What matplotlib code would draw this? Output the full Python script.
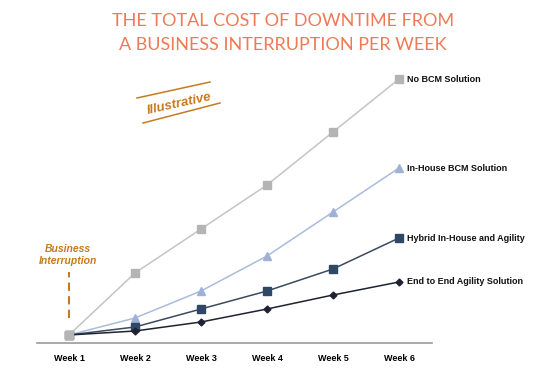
import matplotlib.pyplot as plt
from matplotlib.lines import Line2D

# -----------------------------
# Data
# -----------------------------
weeks = ["Week 1", "Week 2", "Week 3", "Week 4", "Week 5", "Week 6"]
no_bcm = [0, 62, 106, 150, 203, 256]
in_house = [0, 17, 44, 79, 123, 167]
hybrid = [0, 8, 26, 44, 66, 97]
end_to_end = [0, 4, 13, 26, 40, 53]

series_names = ["No BCM Solution", "In-House BCM Solution",
                "Hybrid In-House and Agility", "End to End Agility Solution"]

W, H = 550, 386
fig = plt.figure(figsize=(W / 100, H / 100), dpi=100)
ax = fig.add_axes([37 / W, 1 - 343 / H, (432 - 37) / W, (343 - 70) / H])

x = list(range(len(weeks)))
styles = [
    (no_bcm, "#c4c4c4", "#b4b4b4", "s", 5.5),
    (in_house, "#a9bcdc", "#9fb2d6", "^", 6),
    (hybrid, "#3b4a5e", "#2f4866", "s", 5.5),
    (end_to_end, "#1f2230", "#1f2230", "D", 3.5),
]
for (vals, lc, mc, mk, ms), name in zip(styles, series_names):
    ax.plot(x, vals, color=lc, lw=1.1, marker=mk, ms=ms,
            markerfacecolor=mc, markeredgecolor=mc, zorder=3)
    ax.text(x[-1] + 0.12, vals[-1], name, fontsize=6.5, fontweight="bold",
            family="Liberation Sans", color="#111111", va="center", ha="left")

# redraw week-1 grey marker on top
ax.plot(x[0], no_bcm[0], marker="s", ms=5.5, color="#b4b4b4", zorder=4)

ax.set_xlim(-0.485, 5.5)
ax.set_ylim(-8, 265)
ax.set_xticks(x)
ax.set_xticklabels(weeks, fontsize=6.5, fontweight="bold", family="Liberation Sans")
ax.tick_params(axis="x", length=0, pad=8)
ax.set_yticks([])
for s in ["top", "right", "left"]:
    ax.spines[s].set_visible(False)
ax.spines["bottom"].set_color("#9a9a9a")
ax.spines["bottom"].set_linewidth(1.2)

# -----------------------------
# Title
# -----------------------------
title_color = "#f07a55"
fig.text(283 / W, 1 - 21 / H, "THE TOTAL COST OF DOWNTIME FROM",
         ha="center", va="center", fontsize=13, color=title_color,
         family="Lato", fontweight="normal")
fig.text(283 / W, 1 - 45 / H, "A BUSINESS INTERRUPTION PER WEEK",
         ha="center", va="center", fontsize=13, color=title_color,
         family="Lato", fontweight="normal")

# -----------------------------
# Annotations
# -----------------------------
orange = "#c77a1f"
fig.text(179 / W, 1 - 104 / H, "Illustrative", ha="center", va="center",
         rotation=12.5, fontsize=9.5, fontweight="bold", style="italic",
         family="Liberation Sans", color=orange)
fig.add_artist(Line2D([137 / W, 210 / W], [1 - 98 / H, 1 - 82 / H],
                      color=orange, lw=1.1))
fig.add_artist(Line2D([143 / W, 220 / W], [1 - 123 / H, 1 - 103 / H],
                      color=orange, lw=1.1))

fig.text(68 / W, 1 - 249 / H, "Business", ha="center", va="center",
         fontsize=7.5, fontweight="bold", style="italic",
         family="Liberation Sans", color=orange)
fig.text(68 / W, 1 - 261 / H, "Interruption", ha="center", va="center",
         fontsize=7.5, fontweight="bold", style="italic",
         family="Liberation Sans", color=orange)
ax.plot([0, 0], [17, 63], color=orange, lw=1.5, ls=(0, (4, 2.5)))

fig.savefig("out.png", dpi=100)
